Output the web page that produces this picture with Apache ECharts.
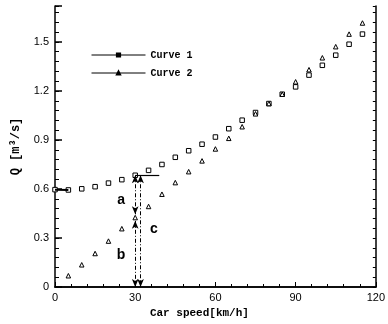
<!DOCTYPE html>
<html>
<head>
<meta charset="utf-8">
<script src="https://cdn.jsdelivr.net/npm/echarts@6/dist/echarts.min.js"></script>
<style>
  html, body { margin: 0; padding: 0; background: #fff; }
  #chart { width: 388px; height: 324px; }
</style>
</head>
<body>
<div id="chart"></div>
<script>
// car speed [km/h]
const speed = [0, 5, 10, 15, 20, 25, 30, 35, 40, 45, 50, 55,
  60, 65, 70, 75, 80, 85, 90, 95, 100, 105, 110, 115];
// Q [m3/s]
const curve1 = [0.596, 0.594, 0.601, 0.614, 0.636, 0.657, 0.684, 0.714, 0.75, 0.794, 0.834, 0.874,
  0.918, 0.969, 1.021, 1.068, 1.123, 1.18, 1.225, 1.297, 1.357, 1.419, 1.486, 1.548];
const curve2 = [null, 0.069, 0.136, 0.205, 0.281, 0.357, 0.425, 0.493, 0.568, 0.639, 0.706, 0.772,
  0.845, 0.91, 0.981, 1.06, 1.123, 1.18, 1.256, 1.33, 1.403, 1.471, 1.548, 1.616];
const seriesNames = ['Curve 1', 'Curve 2'];
const xTicks = [0, 30, 60, 90, 120];
const yTicks = [0, 0.3, 0.6, 0.9, 1.2, 1.5];

// annotation arrows (a, b, c) and helper lines
const arrowA = [[30, 0.684], [30, 0.445]];
const arrowB = [[30, 0.405], [30, 0]];
const arrowC = [[32, 0.684], [32, 0]];
const levelLine = [[30, 0.684], [39, 0.684]];
const startLine = [[0, 0.596], [5, 0.594]];
const letters = [['a', 24.7, 0.533], ['b', 24.7, 0.195], ['c', 37, 0.353]];

const pairs = (ys) => speed.map((s, i) => [s, ys[i]]).filter(p => p[1] != null);
const seg = (pts, extra) => [Object.assign({ coord: pts[0] }, extra || {}), { coord: pts[1] }];

const chart = echarts.init(document.getElementById('chart'));

const markerStyle = { color: '#fff', borderColor: '#000', borderWidth: 1 };
const dashDot = { color: '#000', width: 1, type: [4, 2, 1, 2] };

const option = {
  animation: false,
  backgroundColor: '#fff',
  textStyle: { fontFamily: 'Liberation Sans' },
  grid: { left: 55, right: 9, top: 6, bottom: 37 },
  legend: {
    orient: 'vertical',
    left: 86,
    top: 45,
    itemWidth: 54,
    itemHeight: 4,
    itemGap: 8,
    data: seriesNames,
    itemStyle: { color: '#000', borderColor: '#000' },
    lineStyle: { color: '#000', width: 1, opacity: 1 },
    textStyle: { fontFamily: 'Liberation Mono', fontWeight: 'bold', fontSize: 10, color: '#000' }
  },
  xAxis: [
    {
      type: 'value', min: xTicks[0], max: xTicks[xTicks.length - 1], interval: 30,
      position: 'bottom',
      axisLine: { lineStyle: { color: '#000', width: 1.5 } },
      axisTick: { inside: true, length: 5, lineStyle: { color: '#000' } },
      minorTick: { show: true, splitNumber: 5, length: 3, lineStyle: { color: '#000' } },
      splitLine: { show: false },
      axisLabel: { color: '#000', fontSize: 11, margin: 5 },
      name: 'Car speed[km/h]',
      nameLocation: 'middle',
      nameGap: 19,
      nameTextStyle: {
        fontFamily: 'Liberation Mono', fontWeight: 'bold', fontSize: 11, color: '#000',
        padding: [0, 32, 0, 0]
      }
    },
    {
      type: 'value', min: 0, max: 120, position: 'top',
      axisLine: { lineStyle: { color: '#000', width: 1.5 } },
      axisTick: { show: false }, axisLabel: { show: false }, splitLine: { show: false }
    }
  ],
  yAxis: [
    {
      type: 'value', min: 0, max: 1.72, interval: 0.3, position: 'left',
      axisLine: { lineStyle: { color: '#000', width: 1.5 } },
      axisTick: { inside: true, length: 7, lineStyle: { color: '#000', width: 1.5 } },
      splitLine: { show: false },
      axisLabel: {
        color: '#000', fontSize: 11, margin: 6,
        formatter: (v) => {
          const hit = yTicks.find(t => Math.abs(t - v) < 1e-6);
          if (hit === undefined) return '';
          return hit === 0 ? '0' : hit.toFixed(1);
        }
      },
      name: 'Q [m\u00b3/s]',
      nameLocation: 'middle',
      nameGap: 33,
      nameTextStyle: { fontFamily: 'Liberation Mono', fontWeight: 'bold', fontSize: 12, color: '#000' }
    },
    {
      type: 'value', min: 0, max: 1.72, interval: 0.06, position: 'left',
      axisLine: { show: false },
      axisTick: { inside: true, length: 4, lineStyle: { color: '#000' } },
      axisLabel: { show: false }, splitLine: { show: false }
    },
    {
      type: 'value', min: 0, max: 1.72, interval: 0.06, position: 'right',
      axisLine: { lineStyle: { color: '#000', width: 1.5 } },
      axisTick: { inside: true, length: 3, lineStyle: { color: '#000' } },
      axisLabel: { show: false }, splitLine: { show: false }
    }
  ],
  series: [
    {
      name: seriesNames[0],
      type: 'line',
      data: pairs(curve1),
      symbol: 'rect',
      symbolSize: 4.5,
      itemStyle: markerStyle,
      lineStyle: { opacity: 0 },
      z: 3,
      markLine: {
        silent: true,
        symbol: 'none',
        label: { show: false },
        lineStyle: { color: '#000', width: 1.2, type: 'solid' },
        data: [seg(levelLine), seg(startLine, { lineStyle: { width: 2 } })]
      },
      markPoint: {
        silent: true,
        symbol: 'circle',
        symbolSize: 0,
        label: {
          show: true, position: 'inside', color: '#000', fontSize: 14, fontWeight: 'bold',
          formatter: (p) => p.name
        },
        data: letters.map(l => ({ name: l[0], coord: [l[1], l[2]] }))
      }
    },
    {
      name: seriesNames[1],
      type: 'line',
      data: pairs(curve2),
      symbol: 'triangle',
      symbolSize: 4.5,
      itemStyle: markerStyle,
      lineStyle: { opacity: 0 },
      z: 3,
      markLine: {
        silent: true,
        symbol: ['arrow', 'arrow'],
        symbolSize: [5, 8],
        label: { show: false },
        lineStyle: dashDot,
        data: [seg(arrowA), seg(arrowB), seg(arrowC)]
      }
    }
  ]
};

chart.setOption(option);
</script>
</body>
</html>
